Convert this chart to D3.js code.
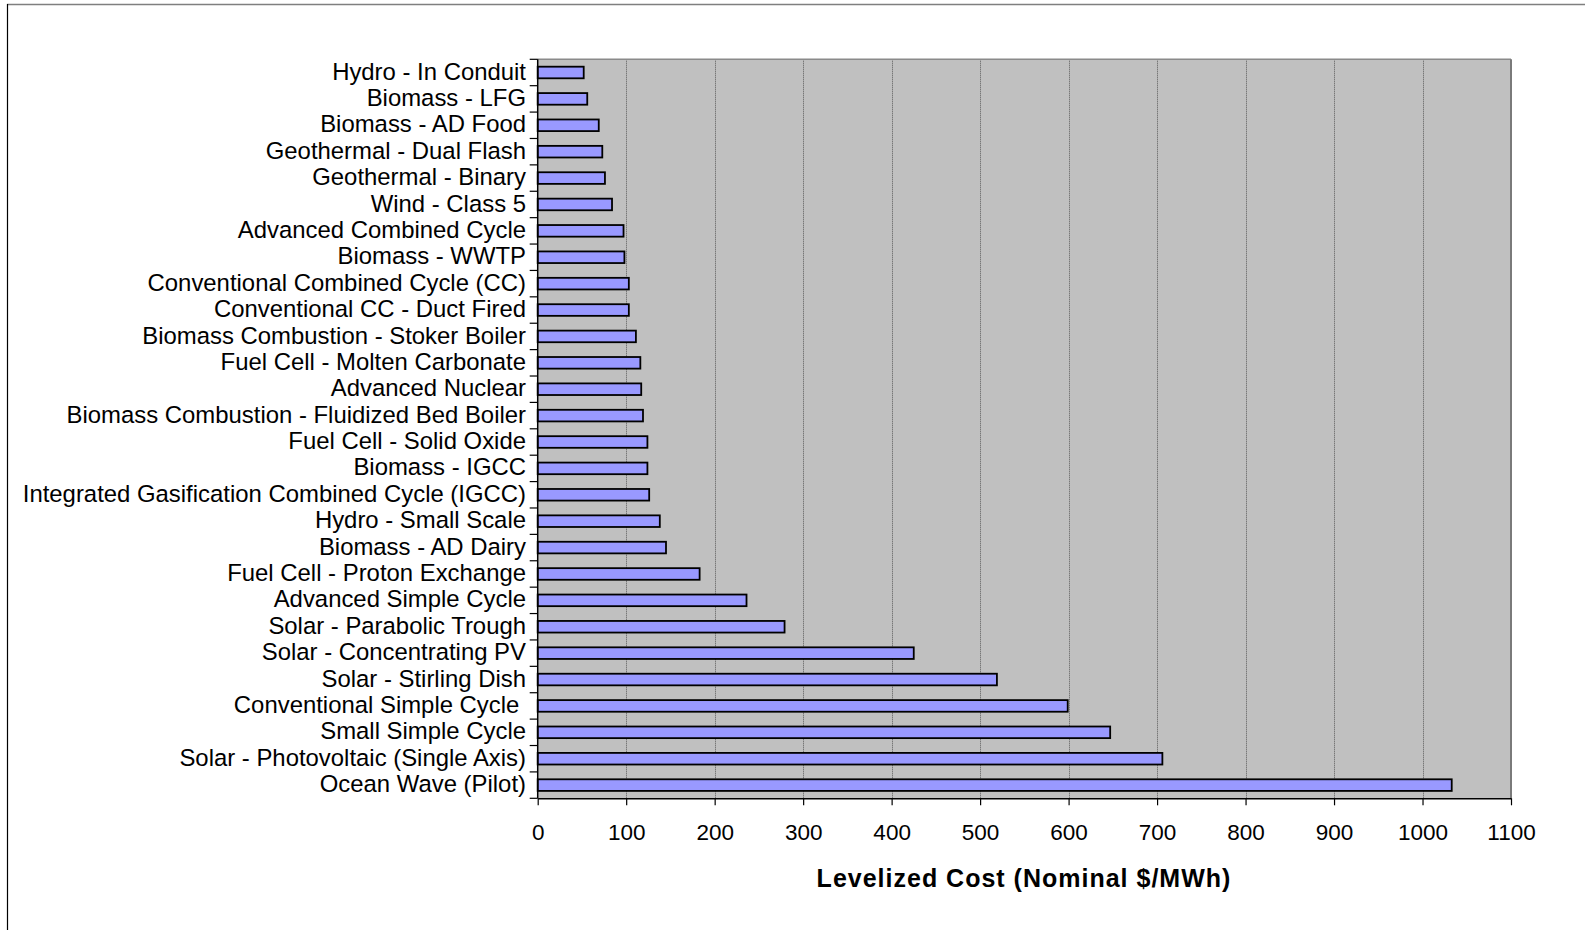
<!DOCTYPE html>
<html>
<head>
<meta charset="utf-8">
<script src="https://cdn.jsdelivr.net/npm/d3@7/dist/d3.min.js"></script>
<style>
  html, body { margin: 0; padding: 0; background: #fff; }
  svg { display: block; }
  text { font-family: "Liberation Sans", Arial, sans-serif; fill: #000; }
</style>
</head>
<body>
<svg id="chart" width="1585" height="930"></svg>
<script>
const categories = [
  "Hydro - In Conduit",
  "Biomass - LFG",
  "Biomass - AD Food",
  "Geothermal - Dual Flash",
  "Geothermal - Binary",
  "Wind - Class 5",
  "Advanced Combined Cycle",
  "Biomass - WWTP",
  "Conventional Combined Cycle (CC)",
  "Conventional CC - Duct Fired",
  "Biomass Combustion - Stoker Boiler",
  "Fuel Cell - Molten Carbonate",
  "Advanced Nuclear",
  "Biomass Combustion - Fluidized Bed Boiler",
  "Fuel Cell - Solid Oxide",
  "Biomass - IGCC",
  "Integrated Gasification Combined Cycle (IGCC)",
  "Hydro - Small Scale",
  "Biomass - AD Dairy",
  "Fuel Cell - Proton Exchange",
  "Advanced Simple Cycle",
  "Solar - Parabolic Trough",
  "Solar - Concentrating PV",
  "Solar - Stirling Dish",
  "Conventional Simple Cycle ",
  "Small Simple Cycle",
  "Solar - Photovoltaic (Single Axis)",
  "Ocean Wave (Pilot)"
];
const costs = [
  52, 56, 69, 73, 76, 84, 97, 98, 103, 103, 111, 116, 117, 119, 124, 124, 126,
  138, 145, 183, 236, 279, 425, 519, 599, 647, 706, 1033
];
const xTicks = [0, 100, 200, 300, 400, 500, 600, 700, 800, 900, 1000, 1100];
const xTitle = "Levelized Cost (Nominal $/MWh)";

const svg = d3.select("#chart");
const plot = { left: 537.7, right: 1511, top: 59.3, bottom: 798.3 };

// outer frame (partially visible)
svg.append("line").attr("x1", 7).attr("x2", 1585).attr("y1", 4.5).attr("y2", 4.5)
  .attr("stroke", "#7f7f7f").attr("stroke-width", 1.5);
svg.append("line").attr("x1", 7.5).attr("x2", 7.5).attr("y1", 4).attr("y2", 930)
  .attr("stroke", "#000").attr("stroke-width", 1.2);

const x = d3.scaleLinear().domain([0, 1100]).range([plot.left, plot.right]);
const y = d3.scaleBand().domain(categories).range([plot.top, plot.bottom])
  .paddingInner(0.56).paddingOuter(0.28);

// plot background
svg.append("rect").attr("x", plot.left).attr("y", plot.top)
  .attr("width", plot.right - plot.left).attr("height", plot.bottom - plot.top)
  .attr("fill", "#c0c0c0");

// gridlines
svg.append("g").selectAll("line").data(xTicks.filter(d => d > 0 && d < 1100)).join("line")
  .attr("x1", d => Math.round(x(d)) + 0.5).attr("x2", d => Math.round(x(d)) + 0.5)
  .attr("y1", plot.top).attr("y2", plot.bottom)
  .attr("stroke", "#5a5a5a").attr("stroke-width", 1).attr("stroke-dasharray", "1,1");

// plot border top/right
svg.append("line").attr("x1", plot.left).attr("x2", plot.right).attr("y1", plot.top).attr("y2", plot.top)
  .attr("stroke", "#8a8a8a").attr("stroke-width", 1.5);
svg.append("line").attr("x1", plot.right).attr("x2", plot.right).attr("y1", plot.top).attr("y2", plot.bottom)
  .attr("stroke", "#7a7a7a").attr("stroke-width", 2);

// bars
svg.append("g").selectAll("rect").data(categories).join("rect")
  .attr("x", x(0))
  .attr("y", d => y(d))
  .attr("width", (d, i) => x(costs[i]) - x(0))
  .attr("height", y.bandwidth())
  .attr("fill", "#9999ff")
  .attr("stroke", "#000")
  .attr("stroke-width", 1.8);

// y axis: line + ticks at band boundaries
const bounds = d3.range(categories.length + 1).map(i => plot.top + i * (plot.bottom - plot.top) / categories.length);
svg.append("g").selectAll("line").data(bounds).join("line")
  .attr("x1", plot.left - 8).attr("x2", plot.left)
  .attr("y1", d => d).attr("y2", d => d)
  .attr("stroke", "#000").attr("stroke-width", 1.2);
svg.append("line").attr("x1", plot.left).attr("x2", plot.left)
  .attr("y1", plot.top).attr("y2", plot.bottom).attr("stroke", "#000").attr("stroke-width", 1.5);

svg.append("g").selectAll("text").data(categories).join("text")
  .attr("x", 526)
  .attr("y", d => y(d) + y.bandwidth() / 2 - 1.5)
  .attr("dy", "0.36em")
  .attr("text-anchor", "end")
  .attr("font-size", 23.9)
  .style("white-space", "pre")
  .text(d => d);

// x axis
const xAxis = d3.axisBottom(x).tickValues(xTicks).tickFormat(d3.format("d"))
  .tickSize(7).tickPadding(19).tickSizeOuter(0);
const gx = svg.append("g").attr("transform", `translate(0,${plot.bottom})`).call(xAxis);
gx.select(".domain").attr("stroke", "#000").attr("stroke-width", 1.5);
gx.selectAll(".tick line").attr("stroke", "#000").attr("stroke-width", 1.2);
gx.selectAll(".tick text").attr("font-size", 22.5).attr("fill", "#000");

svg.append("text")
  .attr("x", 1024).attr("y", 887)
  .attr("text-anchor", "middle")
  .attr("font-size", 25)
  .attr("font-weight", "bold")
  .attr("letter-spacing", 1)
  .text(xTitle);
</script>
</body>
</html>
